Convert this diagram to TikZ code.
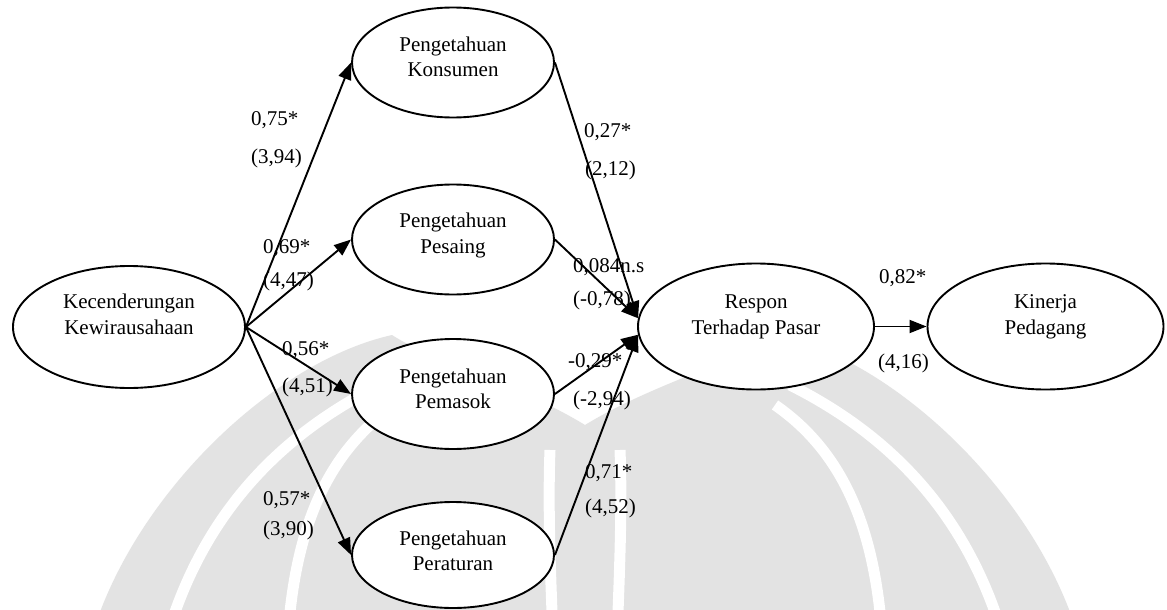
\documentclass[tikz,border=0pt]{standalone}
\usepackage{fontspec}
\setmainfont{Liberation Serif}
\usetikzlibrary{arrows.meta,shapes.geometric}
\begin{document}
\begin{tikzpicture}[x=1pt,y=-1pt,
  ell/.style={ellipse, draw, line width=1.9pt, fill=white, inner sep=0pt},
  mid/.style={ell, minimum width=202pt, minimum height=110pt},
  big/.style={ell, minimum width=236pt, minimum height=126pt},
  txt/.style={font=\fontsize{21}{26}\selectfont, anchor=base, inner sep=0pt},
  coef/.style={font=\fontsize{21}{26}\selectfont, anchor=base west, inner sep=0pt},
  arr/.style={line width=1.9pt, -{Triangle[length=17pt,width=13pt]}},
  wm/.style={fill=black!11, draw=none},
  wmgap/.style={draw=white, line width=11pt}]
\useasboundingbox (0,0) rectangle (1167,610);
\fill[white] (0,0) rectangle (1167,610);

% faint background watermark
\begin{scope}
\clip (0,0) rectangle (1167,610);
\fill[wm] (100,612) .. controls (150,480) and (280,360) .. (392,335)
  .. controls (430,360) and (520,385) .. (585,425)
  .. controls (650,385) and (740,360) .. (778,335)
  .. controls (890,360) and (1020,480) .. (1070,612) -- cycle;
\draw[wmgap] (175,612) .. controls (215,500) and (290,430) .. (380,385);
\draw[wmgap] (290,612) .. controls (300,520) and (330,450) .. (395,405);
\draw[wmgap] (995,612) .. controls (955,500) and (880,430) .. (790,385);
\draw[wmgap] (880,612) .. controls (870,520) and (840,450) .. (775,405);
\draw[wmgap] (620,450) .. controls (622,500) and (620,560) .. (618,612);
\draw[wmgap] (550,450) .. controls (548,500) and (550,560) .. (552,612);
\end{scope}

% ellipses
\node[ell, minimum width=232pt, minimum height=122pt] (kk) at (129,327) {};
\node[mid] (pk) at (453,62.5) {};
\node[mid] (ps) at (453,239.5) {};
\node[mid] (pm) at (453,394) {};
\node[mid, minimum height=106pt] (pr) at (453,555) {};
\node[big] (rp) at (756,326.5) {};
\node[big] (kp) at (1045.5,326.5) {};

% ellipse texts
\node[txt] (kk1) at (129,308) {Kecenderungan};
\node[txt] (kk2) at (129,334) {Kewirausahaan};
\node[txt] (pk1) at (453,52) {Pengetahuan};
\node[txt] (pk2) at (453,77) {Konsumen};
\node[txt] (ps1) at (453,227) {Pengetahuan};
\node[txt] (ps2) at (453,253) {Pesaing};
\node[txt] (pm1) at (453,383) {Pengetahuan};
\node[txt] (pm2) at (453,408) {Pemasok};
\node[txt] (pr1) at (453,545) {Pengetahuan};
\node[txt] (pr2) at (453,570) {Peraturan};
\node[txt] (rp1) at (756,308) {Respon};
\node[txt] (rp2) at (756,334) {Terhadap Pasar};
\node[txt] (kp1) at (1045.5,308) {Kinerja};
\node[txt] (kp2) at (1045.5,334) {Pedagang};

% connectors
\draw[arr] (kk.east) -- (pk.west);
\draw[arr] (kk.east) -- (ps.west);
\draw[arr] (kk.east) -- (pm.west);
\draw[arr] (kk.east) -- (pr.west);
\draw[arr] (pk.east) -- (rp.176);
\draw[arr] (ps.east) -- (rp.176);
\draw[arr] (pm.east) -- (rp.184);
\draw[arr] (pr.east) -- (rp.184);
\draw[arr] (rp.east) -- (kp.west);

% coefficients
\node[coef] (c1a) at (251,125) {0,75*};
\node[coef] (c1b) at (251,163) {(3,94)};
\node[coef] (c2a) at (263,253) {0,69*};
\node[coef] (c2b) at (263,286) {(4,47)};
\node[coef] (c3a) at (282,355) {0,56*};
\node[coef] (c3b) at (282,392) {(4,51)};
\node[coef] (c4a) at (263,505) {0,57*};
\node[coef] (c4b) at (263,535) {(3,90)};
\node[coef] (c5a) at (584,137) {0,27*};
\node[coef] (c5b) at (585,175) {(2,12)};
\node[coef] (c6a) at (573,272) {0,084n.s};
\node[coef] (c6b) at (573,305) {(-0,78)};
\node[coef] (c7a) at (568,367) {-0,29*};
\node[coef] (c7b) at (573,405) {(-2,94)};
\node[coef] (c8a) at (585,478) {0,71*};
\node[coef] (c8b) at (585,513) {(4,52)};
\node[coef] (c9a) at (879,283) {0,82*};
\node[coef] (c9b) at (878,368) {(4,16)};
\end{tikzpicture}
\end{document}
